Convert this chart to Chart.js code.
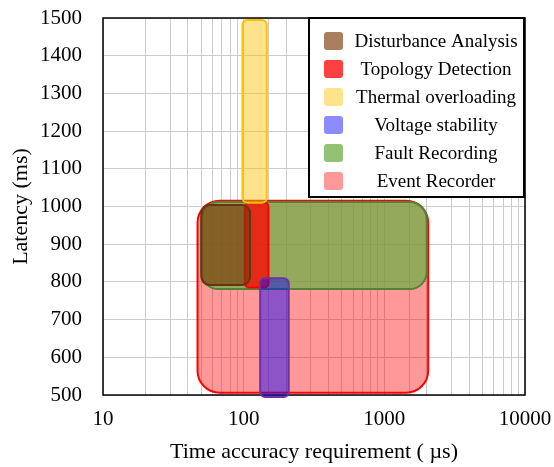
<!DOCTYPE html>
<html>
<head>
<meta charset="utf-8">
<script src="https://cdn.jsdelivr.net/npm/chart.js@4.4.1/dist/chart.umd.min.js"></script>
<style>
  html, body { margin: 0; padding: 0; background: #fff; }
  #wrap { width: 554px; height: 467px; }
</style>
</head>
<body>
<div id="wrap"><canvas id="chart" width="554" height="467"></canvas></div>
<script>
  "use strict";

  // Categories, in drawing order (back to front)
  var categories = ["Event Recorder", "Fault Recording", "Topology Detection",
                    "Disturbance Analysis", "Thermal overloading", "Voltage stability"];
  // Legend order
  var legendOrder = ["Disturbance Analysis", "Topology Detection", "Thermal overloading",
                     "Voltage stability", "Fault Recording", "Event Recorder"];

  // Region extents (time accuracy in us, latency in ms)
  var timeMin    = [47, 50, 102, 50, 98, 131];
  var timeMax    = [2050, 2000, 150, 111, 146, 209];
  var latencyMin = [506, 781, 785, 792, 1010, 495];
  var latencyMax = [1015, 1012, 1010, 1004, 1495, 810];

  // Tick labels
  var xTickLabels = [10, 100, 1000, 10000];

  // Styles per category
  var fills   = ["rgba(255, 0, 0, 0.4)", "rgba(112, 173, 71, 0.75)", "rgba(255, 0, 0, 0.75)",
                 "rgba(125, 58, 10, 0.65)", "rgba(255, 192, 0, 0.45)", "rgba(0, 0, 255, 0.45)"];
  var borders = ["#ff0000", "#548235", "#ff0000", "#633510", "#ffc000", "#7030a0"];
  var radii   = [22, 17, 4, 8, 5, 5];

  var serif = "'Liberation Serif', 'Times New Roman', serif";

  var datasets = categories.map(function (name, i) {
    return {
      label: name,
      data: [{x: timeMin[i], y: latencyMin[i]}, {x: timeMax[i], y: latencyMax[i]}],
      backgroundColor: fills[i],
      borderColor: borders[i],
      borderWidth: 2,
      pointRadius: 0,
      showLine: false,
      cornerRadius: radii[i]
    };
  });

  function roundRect(ctx, x, y, w, h, r) {
    r = Math.min(r, w / 2, h / 2);
    ctx.beginPath();
    ctx.moveTo(x + r, y);
    ctx.lineTo(x + w - r, y);
    ctx.arcTo(x + w, y, x + w, y + r, r);
    ctx.lineTo(x + w, y + h - r);
    ctx.arcTo(x + w, y + h, x + w - r, y + h, r);
    ctx.lineTo(x + r, y + h);
    ctx.arcTo(x, y + h, x, y + h - r, r);
    ctx.lineTo(x, y + r);
    ctx.arcTo(x, y, x + r, y, r);
    ctx.closePath();
  }

  // Rounded regions drawn from the data through the scales
  var regionPlugin = {
    id: "regions",
    beforeDatasetsDraw: function (chart) {
      var ctx = chart.ctx, area = chart.chartArea;
      var xs = chart.scales.x, ys = chart.scales.y;
      ctx.save();
      ctx.strokeStyle = "#000";
      ctx.lineWidth = 1.5;
      ctx.strokeRect(area.left, area.top, area.right - area.left, area.bottom - area.top);
      chart.data.datasets.forEach(function (ds) {
        var x1 = xs.getPixelForValue(ds.data[0].x), x2 = xs.getPixelForValue(ds.data[1].x);
        var y1 = ys.getPixelForValue(ds.data[1].y), y2 = ys.getPixelForValue(ds.data[0].y);
        roundRect(ctx, x1, y1, x2 - x1, y2 - y1, ds.cornerRadius);
        ctx.fillStyle = ds.backgroundColor;
        ctx.fill();
        ctx.lineWidth = ds.borderWidth;
        ctx.strokeStyle = ds.borderColor;
        ctx.stroke();
      });
      ctx.restore();
    },
    afterDraw: function (chart) {
      // boxed legend, top right of the plot
      var ctx = chart.ctx, area = chart.chartArea;
      var right = area.right - 1, top = area.top, w = 215, rowH = 28;
      var left = right - w, h = 179;
      ctx.save();
      ctx.fillStyle = "#fff";
      ctx.fillRect(left, top, w, h);
      ctx.strokeStyle = "#000";
      ctx.lineWidth = 2;
      ctx.strokeRect(left, top, w, h);
      ctx.font = "19px " + serif;
      ctx.textAlign = "center";
      ctx.textBaseline = "middle";
      legendOrder.forEach(function (name, k) {
        var i = categories.indexOf(name);
        var cy = top + 23 + k * rowH;
        roundRect(ctx, left + 15, cy - 9, 19, 18, 3);
        ctx.fillStyle = fills[i];
        ctx.fill();
        ctx.fillStyle = "#000";
        ctx.fillText(name, left + 127, cy + 1);
      });
      ctx.restore();
    }
  };

  new Chart(document.getElementById("chart").getContext("2d"), {
    type: "scatter",
    data: { datasets: datasets },
    plugins: [regionPlugin],
    options: {
      responsive: false,
      animation: false,
      layout: { padding: { top: 18, right: 29, left: 0, bottom: 0 } },
      plugins: { legend: { display: false }, tooltip: { enabled: false } },
      scales: {
        x: {
          type: "logarithmic",
          min: 10,
          max: 10000,
          afterFit: function (scale) {
            scale.height = 72;
            scale.paddingLeft = 0;
            scale.paddingRight = 0;
          },
          grid: { color: "#cccccc", lineWidth: 1, drawTicks: false },
          border: { display: false },
          ticks: {
            autoSkip: false,
            maxRotation: 0,
            padding: 12,
            color: "#000",
            font: { family: serif, size: 21 },
            callback: function (v) {
              return xTickLabels.indexOf(v) >= 0 ? String(v) : "";
            }
          },
          title: {
            display: true,
            text: "Time accuracy requirement ( \u00b5s)",
            color: "#000",
            font: { family: serif, size: 22 },
            padding: { top: 4, bottom: 2 }
          }
        },
        y: {
          min: 500,
          max: 1500,
          afterFit: function (scale) {
            scale.width = 103;
            scale.paddingTop = 0;
            scale.paddingBottom = 0;
          },
          grid: { color: "#cccccc", lineWidth: 1, drawTicks: false },
          border: { display: false },
          ticks: {
            stepSize: 100,
            padding: 21,
            color: "#000",
            font: { family: serif, size: 21 },
            callback: function (v) { return String(v); }
          },
          title: {
            display: true,
            text: "Latency (ms)",
            color: "#000",
            font: { family: serif, size: 22 },
            padding: { top: 8, bottom: 0 }
          }
        }
      }
    }
  });
</script>
</body>
</html>
